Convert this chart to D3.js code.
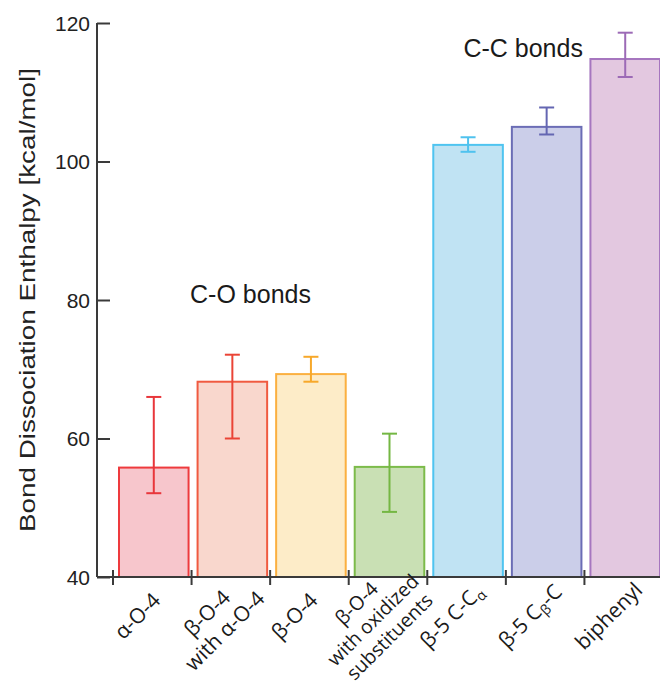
<!DOCTYPE html>
<html>
<head>
<meta charset="utf-8">
<script src="https://cdn.jsdelivr.net/npm/d3@7"></script>
<style>
  html, body { margin: 0; padding: 0; background: #ffffff; }
  svg { display: block; }
</style>
</head>
<body>
<svg id="chart" width="660" height="689"></svg>
<script>
// ---------- data ----------
const categories = ["a-O-4", "b-O-4 with a-O-4", "b-O-4", "b-O-4 oxidized", "b-5 C-Ca", "b-5 Cb-C", "biphenyl"];
const values   = [55.8, 68.2, 69.3, 55.9, 102.4, 105.0, 114.8];
const errLow   = [52.1, 60.0, 68.2, 49.4, 101.4, 103.9, 112.2];
const errHigh  = [66.0, 72.1, 71.8, 60.7, 103.5, 107.8, 118.6];
const yTicks   = [40, 60, 80, 100, 120];
const yDomain  = [40, 120];
// label lines: each line is a list of [text, isSubscript]
const labelLines = [
  [[["α-O-4", false]]],
  [[["β-O-4", false]], [["with α-O-4", false]]],
  [[["β-O-4", false]]],
  [[["β-O-4", false]], [["with oxidized", false]], [["substituents", false]]],
  [[["β-5 C-C", false], ["α", true]]],
  [[["β-5 C", false], ["β", true], ["-C", false]]],
  [[["biphenyl", false]]]
];
const fills   = ["#f7c6cc", "#f9d7cd", "#fdecc8", "#c9e0b4", "#c0e3f3", "#cbcee9", "#e3c8e0"];
const strokes = ["#ee3a3d", "#f05a40", "#fbb040", "#7cbb4a", "#4fc4f0", "#6b6db5", "#a676bf"];
const errCols = ["#e8363b", "#ea4436", "#f7a82a", "#74b743", "#4fc2ee", "#6466b2", "#9c6ab6"];
const annotations = [
  { text: "C-O bonds", x: 1.75, y: 79.6 },
  { text: "C-C bonds", x: 5.22, y: 115.1 }
];
const yTitle = "Bond Dissociation Enthalpy [kcal/mol]";

// ---------- layout ----------
const svg = d3.select("#chart");
const axisX = 97, baseY = 577, topY = 23;
const x = d3.scaleBand().domain(categories).range([113, 663]).padding(0);
const y = d3.scaleLinear().domain(yDomain).range([baseY, topY]);
const axisColor = "#3a3a3a";
const sans = "'Liberation Sans', Arial, Helvetica, sans-serif";

// bars
const g = svg.append("g");
categories.forEach((c, i) => {
  const x0 = x(c) + 6, w = x.bandwidth() - 9;
  g.append("rect")
    .attr("x", x0).attr("y", y(values[i]))
    .attr("width", w).attr("height", y(yDomain[0]) - y(values[i]))
    .attr("fill", fills[i]).attr("stroke", strokes[i]).attr("stroke-width", 2);
});

// error bars
categories.forEach((c, i) => {
  const cx = x(c) + 6 + (x.bandwidth() - 9) / 2;
  const eg = g.append("g").attr("stroke", errCols[i]).attr("stroke-width", 2).attr("fill", "none");
  eg.append("line").attr("x1", cx).attr("x2", cx).attr("y1", y(errLow[i])).attr("y2", y(errHigh[i]));
  eg.append("line").attr("x1", cx - 7.5).attr("x2", cx + 7.5).attr("y1", y(errLow[i])).attr("y2", y(errLow[i]));
  eg.append("line").attr("x1", cx - 7.5).attr("x2", cx + 7.5).attr("y1", y(errHigh[i])).attr("y2", y(errHigh[i]));
});

// y axis
const yAxis = d3.axisRight(y).tickValues(yTicks).tickSize(13).tickFormat("");
const yg = svg.append("g").attr("transform", `translate(${axisX},0)`).call(yAxis);
yg.select(".domain").attr("d", `M0,${topY}V${baseY}`).attr("stroke", axisColor).attr("stroke-width", 2);
yg.selectAll(".tick line").attr("stroke", axisColor).attr("stroke-width", 2);
yTicks.forEach(t => {
  svg.append("text").attr("x", 90).attr("y", y(t)).attr("dy", "0.36em")
    .attr("text-anchor", "end").attr("font-family", sans).attr("font-size", 21)
    .attr("fill", "#222").text(t);
});

// x axis
svg.append("line").attr("x1", axisX).attr("x2", 662).attr("y1", baseY).attr("y2", baseY)
  .attr("stroke", axisColor).attr("stroke-width", 2);
const xTickPos = categories.map(c => x(c));
xTickPos.forEach(px => {
  svg.append("line").attr("x1", px).attr("x2", px).attr("y1", baseY - 7).attr("y2", baseY + 8)
    .attr("stroke", axisColor).attr("stroke-width", 2);
});

// x labels
categories.forEach((c, i) => {
  const lines = labelLines[i];
  const n = lines.length;
  const fs = n > 2 ? 19.5 : 21;
  const lh = n > 2 ? 23.5 : 25;
  const cx = x(c) + x.bandwidth() / 2;
  const cy = n > 2 ? 620 : 616 + (n - 1) * 6;
  const lg = svg.append("g").attr("transform", `translate(${cx - 15},${cy}) rotate(-45)`);
  lines.forEach((segs, j) => {
    const t = lg.append("text").attr("text-anchor", "middle")
      .attr("y", (j - (n - 1) / 2) * lh).attr("dy", "0.35em")
      .attr("font-family", "'Open Sans', sans-serif").attr("font-size", fs).attr("fill", "#1a1a1a");
    segs.forEach(([s, sub]) => {
      const ts = t.append("tspan").text(s);
      if (sub) ts.attr("font-size", 14).attr("baseline-shift", "-25%");
    });
  });
});

// annotations
annotations.forEach(a => {
  const px = x(categories[Math.floor(a.x)]) + (a.x % 1) * x.step();
  svg.append("text").attr("x", px).attr("y", y(a.y)).attr("text-anchor", "middle")
    .attr("font-family", sans).attr("font-size", 25).attr("fill", "#1a1a1a").text(a.text);
});

// y title
svg.append("text").attr("transform", `translate(35,300) rotate(-90)`)
  .attr("text-anchor", "middle").attr("font-family", sans).attr("font-size", 22)
  .attr("fill", "#222").attr("textLength", 464).attr("lengthAdjust", "spacingAndGlyphs")
  .text(yTitle);
</script>
</body>
</html>
